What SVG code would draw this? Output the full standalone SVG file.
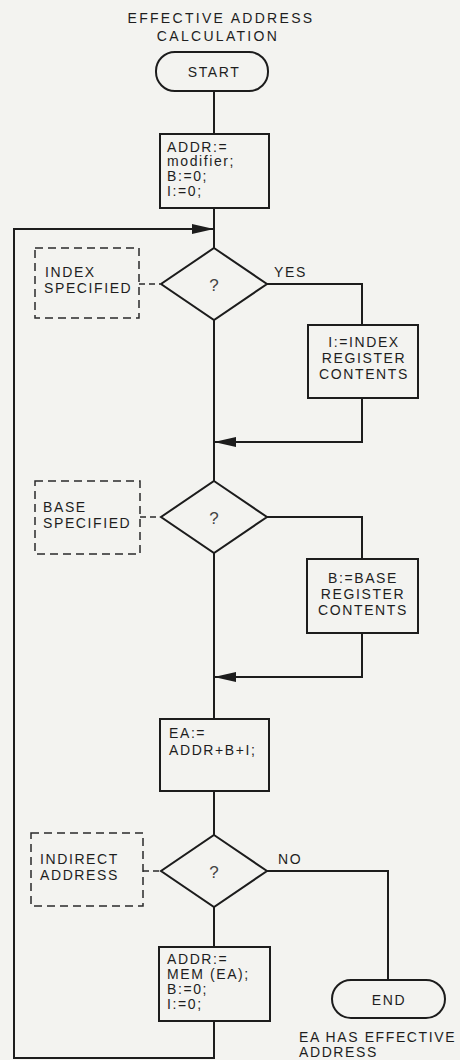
<svg xmlns="http://www.w3.org/2000/svg" width="460" height="1060" viewBox="0 0 460 1060">
<defs>
<style>
.bg{fill:#f3f3f0}
.shape{fill:none;stroke:#1c1c1c;stroke-width:2}
.dash{fill:none;stroke:#2a2a2a;stroke-width:1.5;stroke-dasharray:8 5}
.line{fill:none;stroke:#1c1c1c;stroke-width:2}
.dline{fill:none;stroke:#2a2a2a;stroke-width:1.5;stroke-dasharray:6 4}
text{font-family:"Liberation Sans","DejaVu Sans",sans-serif;font-size:14px;fill:#1e1e1e;letter-spacing:1.6px}
.title{letter-spacing:2.3px}
.mid{text-anchor:middle}
.q{font-size:17px;fill:#444;letter-spacing:0}
</style>
<marker id="arr" markerUnits="userSpaceOnUse" markerWidth="22" markerHeight="10" refX="22" refY="5" orient="auto">
<path d="M0,0 L22,5 L0,10 z" fill="#1c1c1c"/>
</marker>
</defs>
<rect class="bg" x="0" y="0" width="460" height="1060"/>

<g id="title">
<text class="title mid" x="221" y="23">EFFECTIVE ADDRESS</text>
<text class="title mid" x="218" y="41">CALCULATION</text>
</g>

<g id="connectors">
<path class="line" d="M214,91 V134"/>
<path class="line" d="M214,208 V248"/>
<path class="line" d="M214,1021 V1058 H14 V229 H214" marker-end="url(#arr)"/>
<path class="line" d="M214,320 V481"/>
<path class="line" d="M267,284 H362 V325"/>
<path class="line" d="M362,398 V442 H214" marker-end="url(#arr)"/>
<path class="line" d="M267,517 H362 V559"/>
<path class="line" d="M362,633 V677 H214" marker-end="url(#arr)"/>
<path class="line" d="M214,553 V719"/>
<path class="line" d="M214,791 V835"/>
<path class="line" d="M267,871 H388 V980"/>
<path class="line" d="M214,907 V947"/>
<path class="dline" d="M139,284 H160"/>
<path class="dline" d="M140,517 H160"/>
<path class="dline" d="M143,871 H161"/>
<text x="274" y="277">YES</text>
<text x="278" y="864">NO</text>
</g>

<g id="start">
<rect class="shape" x="156" y="52" width="112" height="39" rx="19"/>
<text class="mid" x="214" y="77">START</text>
</g>

<g id="init">
<rect class="shape" x="160" y="134" width="109" height="74"/>
<text x="167" y="152">ADDR:=</text>
<text x="167" y="166">modifier;</text>
<text x="167" y="181">B:=0;</text>
<text x="167" y="196">I:=0;</text>
</g>

<g id="index-decision">
<polygon class="shape" points="214,248 267,284 214,320 161,284"/>
<text class="q mid" x="214" y="291">?</text>
</g>
<g id="index-note">
<rect class="dash" x="35" y="248" width="104" height="70"/>
<text x="45" y="277">INDEX</text>
<text x="44" y="293">SPECIFIED</text>
</g>

<g id="index-assign">
<rect class="shape" x="308" y="325" width="110" height="73"/>
<text class="mid" x="364" y="347">I:=INDEX</text>
<text class="mid" x="364" y="363">REGISTER</text>
<text class="mid" x="364" y="379">CONTENTS</text>
</g>

<g id="base-decision">
<polygon class="shape" points="214,481 267,517 214,553 161,517"/>
<text class="q mid" x="214" y="524">?</text>
</g>
<g id="base-note">
<rect class="dash" x="35" y="481" width="105" height="73"/>
<text x="43" y="512">BASE</text>
<text x="43" y="528">SPECIFIED</text>
</g>

<g id="base-assign">
<rect class="shape" x="307" y="559" width="111" height="74"/>
<text class="mid" x="363" y="583">B:=BASE</text>
<text class="mid" x="363" y="599">REGISTER</text>
<text class="mid" x="363" y="615">CONTENTS</text>
</g>

<g id="ea">
<rect class="shape" x="160" y="719" width="109" height="72"/>
<text x="169" y="738">EA:=</text>
<text x="169" y="755">ADDR+B+I;</text>
</g>

<g id="indirect-decision">
<polygon class="shape" points="214,835 267,871 214,907 161,871"/>
<text class="q mid" x="214" y="878">?</text>
</g>
<g id="indirect-note">
<rect class="dash" x="31" y="833" width="112" height="73"/>
<text x="40" y="864">INDIRECT</text>
<text x="40" y="880">ADDRESS</text>
</g>

<g id="indirect-assign">
<rect class="shape" x="159" y="947" width="111" height="74"/>
<text x="167" y="964">ADDR:=</text>
<text x="167" y="979">MEM (EA);</text>
<text x="167" y="994">B:=0;</text>
<text x="167" y="1009">I:=0;</text>
</g>

<g id="end">
<rect class="shape" x="332" y="980" width="113" height="38" rx="19"/>
<text class="mid" x="389" y="1005">END</text>
<text x="299" y="1042">EA HAS EFFECTIVE</text>
<text x="299" y="1057">ADDRESS</text>
</g>
</svg>
